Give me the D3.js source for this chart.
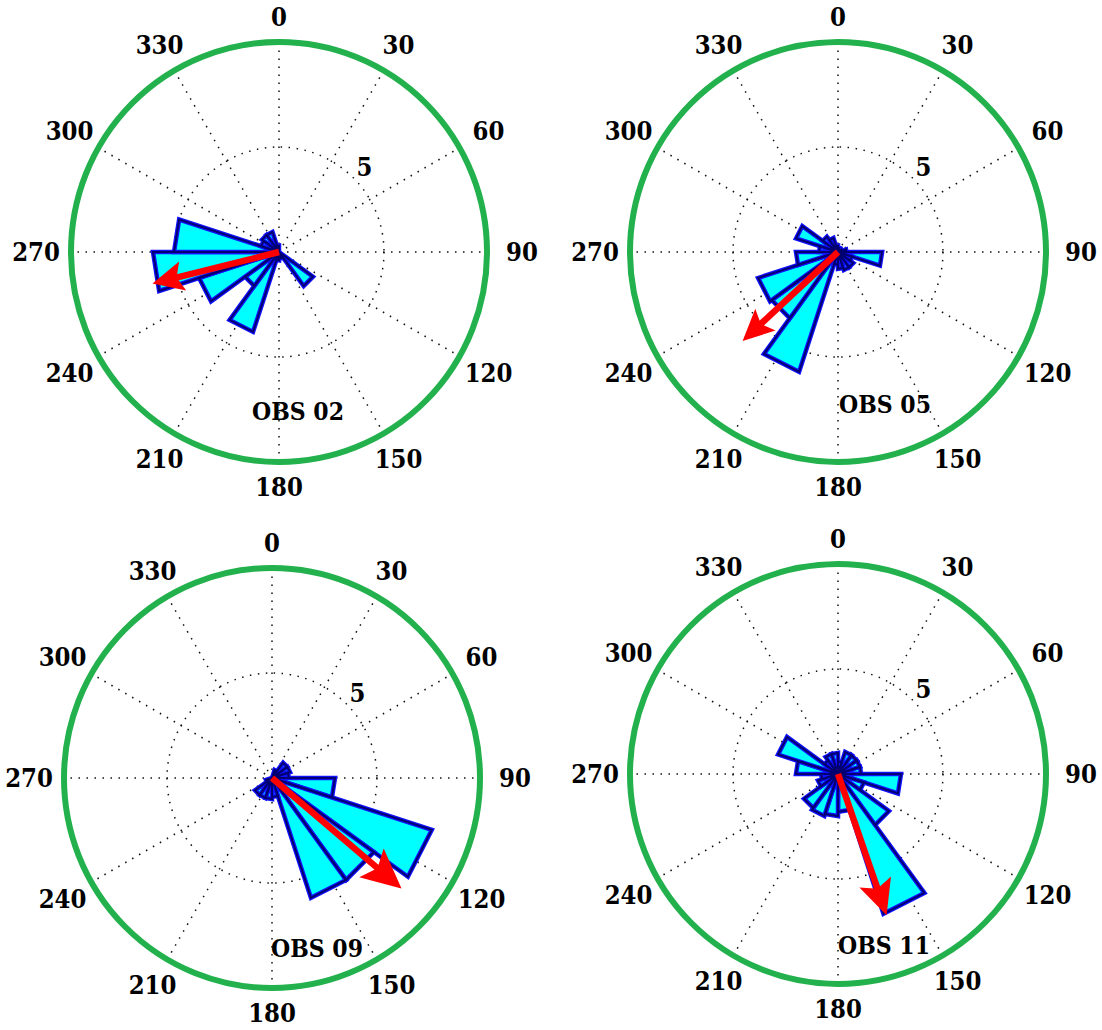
<!DOCTYPE html>
<html>
<head>
<meta charset="utf-8">
<script src="https://cdn.jsdelivr.net/npm/d3@7"></script>
<style>
  body { margin: 0; background: #fff; }
  svg text { font-family: "DejaVu Serif", "Liberation Serif", serif; font-weight: bold; }
</style>
</head>
<body>
<div id="chart"></div>
<script>
// rose bins (compass bearing, 18 degree wide)
const binStarts = [0, 18, 36, 54, 72, 90, 108, 126, 144, 162, 180, 198, 216, 234, 252, 270, 288, 306, 324, 342];
const binWidth = 18;

const obs02 = [0, 0, 0, 0, 0, 0, 0, 2, 0.3, 0.3, 0.4, 4, 2, 4, 6, 5, 0.9, 1, 1, 0.3];
const obs05 = [0.2, 0, 0, 0.2, 0.4, 2.1, 0.7, 0.9, 0.9, 0.8, 0.6, 6, 3.9, 4, 2, 0.9, 2.1, 0.9, 0.7, 0.3];
const obs09 = [0, 0.4, 0.9, 0.9, 0.8, 3, 8, 6, 6, 0.9, 1, 1, 1, 0.3, 0, 0, 0, 0, 0, 0];
const obs11 = [0.6, 1.1, 1.1, 1.1, 1.1, 3, 1.3, 3, 7, 1.8, 2, 2.1, 2, 1, 0.8, 2, 3, 0.8, 1, 1];

const panelNames = ["OBS 02", "OBS 05", "OBS 09", "OBS 11"];
const meanDir = [256, 227, 130.5, 161];
const meanLen = [6.1, 6.1, 8.0, 7.0];

const angleTicks = [0, 30, 60, 90, 120, 150, 180, 210, 240, 270, 300, 330];
const radialTicks = [5];
const rMax = 10;

// layout
const width = 1102, height = 1030;
const centers = [[279, 252], [838, 252], [272, 778], [838, 774]];
const nameOffset = [[19, 160], [47, 153], [45, 171], [46, 172]];
const textScaleX = 0.88;

const svg = d3.select("#chart").append("svg")
    .attr("width", width)
    .attr("height", height);

const r = d3.scaleLinear().domain([0, rMax]).range([0, 210]);
const rad = d => d * Math.PI / 180;

const petal = d3.lineRadial()
    .angle(d => rad(d[0]))
    .radius(d => r(d[1]));

// label distance grows a little toward the sides (wide text)
const labelDist = d => 235 + 8 * Math.abs(Math.sin(rad(d)));

const series = [obs02, obs05, obs09, obs11];

series.forEach((vals, p) => {
    const g = svg.append("g")
        .attr("transform", `translate(${centers[p][0]},${centers[p][1]})`);

    // dotted spokes
    g.selectAll(".spoke")
        .data(angleTicks)
        .enter()
        .append("line")
        .attr("x1", 0).attr("y1", 0)
        .attr("x2", d => r(rMax) * Math.sin(rad(d)))
        .attr("y2", d => -r(rMax) * Math.cos(rad(d)))
        .attr("stroke", "#111")
        .attr("stroke-width", 1.5)
        .attr("stroke-dasharray", "1.5,6.5");

    // dotted circle
    g.selectAll(".ring")
        .data(radialTicks)
        .enter()
        .append("circle")
        .attr("r", d => r(d))
        .attr("fill", "none")
        .attr("stroke", "#111")
        .attr("stroke-width", 1.5)
        .attr("stroke-dasharray", "1.5,6.5");

    // outer green ring
    g.append("ellipse")
        .attr("rx", r(rMax) - 2)
        .attr("ry", r(rMax))
        .attr("fill", "none")
        .attr("stroke", "#22b14c")
        .attr("stroke-width", 6);

    // rose petals
    const bins = binStarts.map((b, i) => ({ a1: b, a2: b + binWidth, v: vals[i] }))
        .filter(d => d.v > 0);
    const petalPath = d => petal([[d.a1, 0], [d.a1, d.v], [d.a2, d.v], [d.a2, 0]]) + "Z";
    g.selectAll(".petal")
        .data(bins)
        .enter()
        .append("path")
        .attr("d", petalPath)
        .attr("fill", "#00ffff")
        .attr("stroke", "#1010ff")
        .attr("stroke-width", 4.5)
        .attr("stroke-linejoin", "miter");
    g.selectAll(".petal-core")
        .data(bins)
        .enter()
        .append("path")
        .attr("d", petalPath)
        .attr("fill", "none")
        .attr("stroke", "#000070")
        .attr("stroke-width", 2)
        .attr("stroke-linejoin", "miter");

    // mean direction arrow
    const L = r(meanLen[p]);
    const hl = 0.21 * L, hw = 0.1 * L;
    const arrow = g.append("g").attr("transform", `rotate(${meanDir[p]})`);
    arrow.append("line")
        .attr("x1", 0).attr("y1", 0)
        .attr("x2", 0).attr("y2", -L + hl * 0.6)
        .attr("stroke", "#ff0000")
        .attr("stroke-width", 6.5);
    arrow.append("path")
        .attr("d", `M0,${-L}L${hw},${-L + hl}L0,${-L + hl * 0.8}L${-hw},${-L + hl}Z`)
        .attr("fill", "#ff0000")
        .attr("stroke", "#ff0000")
        .attr("stroke-width", 2)
        .attr("stroke-linejoin", "miter");

    // angle labels
    g.selectAll(".alabel")
        .data(angleTicks)
        .enter()
        .append("text")
        .attr("transform", d => `translate(${labelDist(d) * Math.sin(rad(d))},${-labelDist(d) * Math.cos(rad(d))}) scale(${textScaleX},1)`)
        .attr("text-anchor", "middle")
        .attr("dominant-baseline", "central")
        .style("font-size", "26px")
        .attr("fill", "#000")
        .text(d => d);

    // radial tick label
    g.selectAll(".rlabel")
        .data(radialTicks)
        .enter()
        .append("text")
        .attr("transform", d => `translate(${r(d * 1.15) * Math.sin(rad(45))},${-r(d * 1.15) * Math.cos(rad(45))}) scale(${textScaleX},1)`)
        .attr("text-anchor", "middle")
        .attr("dominant-baseline", "central")
        .style("font-size", "26px")
        .attr("fill", "#000")
        .text(d => d);

    // station name
    g.append("text")
        .attr("transform", `translate(${nameOffset[p][0]},${nameOffset[p][1]}) scale(${textScaleX},1)`)
        .attr("text-anchor", "middle")
        .attr("dominant-baseline", "central")
        .style("font-size", "25px")
        .attr("fill", "#000")
        .text(panelNames[p]);
});
</script>
</body>
</html>
